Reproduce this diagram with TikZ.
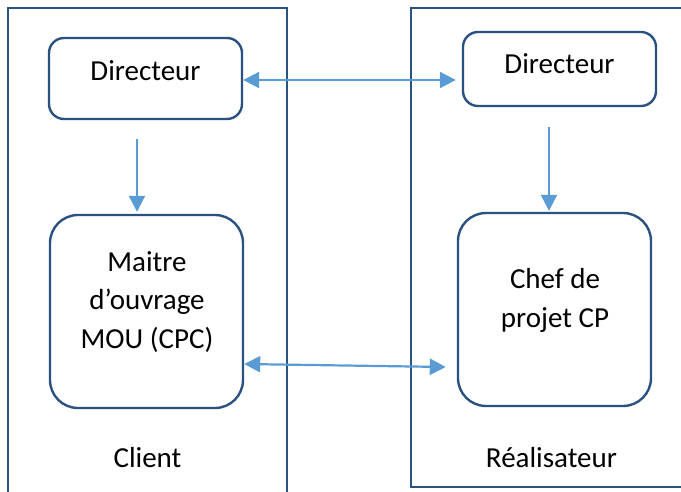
\documentclass[tikz,border=0pt]{standalone}
\usepackage{fontspec}
\setmainfont{Carlito}
\usetikzlibrary{arrows.meta}
\definecolor{lane}{HTML}{2A5180}
\definecolor{flow}{HTML}{5B9BD5}
\begin{document}
\begin{tikzpicture}[x=1pt,y=-1pt,
  lanestyle/.style={draw=lane,line width=2.4pt},
  smallbox/.style={draw=lane,line width=2.4pt,rounded corners=15pt,inner sep=0pt},
  bigbox/.style={draw=lane,line width=2.4pt,rounded corners=28pt,inner sep=0pt},
  txt/.style={font=\fontsize{29}{38.5}\selectfont,align=center,inner sep=0pt},
  flowarrow/.style={draw=flow,line width=2.2pt,-{Triangle[length=16pt 0,width=16pt 0]}},
  biarrow/.style={draw=flow,line width=2.2pt,{Triangle[length=16pt 0,width=16pt 0]}-{Triangle[length=16pt 0,width=16pt 0]}}]
\useasboundingbox (0,0) rectangle (681,491);

% swimlanes (open at the page edges)
\draw[lanestyle] (8,495) -- (8,8) -- (287,8) -- (287,495);
\draw[lanestyle] (690,8) -- (411,8) -- (411,487) -- (690,487);

% boxes
\node[smallbox,minimum width=193pt,minimum height=81pt] (dirL) at (145.5,78.5) {};
\node[smallbox,minimum width=193pt,minimum height=74pt] (dirR) at (559.5,69) {};
\node[bigbox,minimum width=193pt,minimum height=193pt] (mou) at (146.5,311.5) {};
\node[bigbox,minimum width=193pt,minimum height=193pt] (cp) at (554.5,309.5) {};

% labels
\node[txt,anchor=base] (tdirL) at (145.5,80) {Directeur};
\node[txt,anchor=base] (tdirR) at (559.5,73.5) {Directeur};
\node[txt,anchor=base] (tmou) at (147,348) {Maitre\\d’ouvrage\\MOU (CPC)};
\node[txt,anchor=base] (tcp) at (555,327) {Chef de\\projet CP};
\node[txt,anchor=base] (client) at (147.5,467) {Client};
\node[txt,anchor=base] (real) at (551.5,467) {Réalisateur};

% connectors
\draw[biarrow] ([yshift=-1.5pt]dirL.east) -- ([xshift=-6pt,yshift=-1.5pt]dirL.east -| dirR.west);
\draw[flowarrow] ([xshift=-8.5pt,yshift=-19pt]dirL.south) -- ([xshift=-9.5pt,yshift=2pt]mou.north);
\draw[flowarrow] ([xshift=-10.5pt,yshift=-20pt]dirR.south) -- ([xshift=-5.5pt,yshift=1pt]cp.north);
\draw[biarrow] ([yshift=-52.5pt]mou.east) -- ([xshift=-11pt,yshift=-57.5pt]cp.west);
\end{tikzpicture}
\end{document}
